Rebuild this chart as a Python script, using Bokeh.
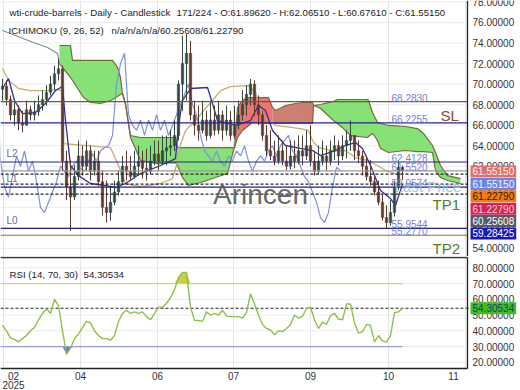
import numpy as np
from bokeh.plotting import figure
from bokeh.layouts import column
from bokeh.models import Range1d, Label
from bokeh.embed import file_html
from bokeh.resources import INLINE

FONT = "Liberation Sans"

# ---------------- data (one candle = 2 trading days) ----------------
candle_step = 2
first_open = 69.5
close = [69.8, 68.5, 67.0, 67.5, 66.2, 66.0, 67.5, 67.0, 67.3, 68.0,
         68.5, 69.2, 70.0, 71.0, 71.5, 62.5, 60.0, 59.0, 61.0, 63.0,
         62.0, 63.5, 61.5, 62.5, 60.5, 58.0, 57.5, 58.5, 59.5, 60.5,
         62.0, 61.5, 61.0, 62.0, 62.5, 61.8, 61.5, 62.5, 63.2, 62.5,
         63.5, 63.8, 64.0, 65.0, 70.0, 72.0, 73.0, 67.0, 66.0, 65.5,
         66.5, 65.0, 66.5, 65.5, 67.0, 65.5, 66.5, 65.0, 66.0, 67.0,
         68.0, 69.0, 70.0, 68.0, 67.0, 65.0, 63.5, 63.0, 62.5, 63.5,
         62.5, 62.0, 63.0, 62.5, 63.5, 63.0, 64.0, 62.5, 61.5, 62.5,
         63.0, 62.5, 63.5, 64.0, 63.0, 64.0, 64.5, 65.0, 63.5, 63.0,
         62.0, 61.0, 60.5, 59.5, 58.5, 57.0, 56.5, 57.5, 60.0, 61.8962,
         61.5515]
high = [70.5, 70.35, 68.9, 68.4, 67.9, 67.4, 68.4, 67.9, 68.4, 68.9,
        69.4, 69.9, 70.8, 71.8, 72.5, 71.8, 63.5, 62.6, 62.1, 64.5,
        64.0, 64.5, 64.0, 63.5, 63.5, 61.6, 60.6, 60.1, 60.6, 61.6,
        63.0, 63.5, 63.0, 63.5, 64.0, 63.5, 63.7, 64.0, 64.5, 64.5,
        65.0, 65.0, 65.5, 66.45, 70.35, 74.7, 74.9, 74.2, 68.4, 67.9,
        68.4, 67.4, 68.4, 67.9, 68.4, 67.4, 67.9, 67.4, 67.9, 68.4,
        69.4, 69.9, 70.5, 70.35, 68.9, 67.4, 66.0, 65.5, 64.5, 65.0,
        64.5, 64.0, 64.5, 64.5, 65.0, 65.0, 65.5, 66.0, 63.5, 64.0,
        64.5, 64.0, 64.5, 65.0, 64.5, 65.0, 65.5, 66.45, 65.0, 64.5,
        63.5, 63.0, 62.6, 61.1, 60.6, 59.2, 58.2, 58.7, 60.6, 62.6,
        62.0651]
low = [68.4, 67.91, 66.45, 65.97, 65.5, 65.3, 66.0, 66.45, 66.45, 66.9,
       67.4, 67.9, 68.9, 69.4, 70.35, 61.6, 58.7, 55.7, 58.7, 60.6,
       61.1, 61.6, 60.6, 61.1, 60.1, 57.2, 56.5, 56.7, 58.2, 59.15,
       60.2, 60.6, 60.6, 60.8, 61.1, 60.8, 60.6, 61.2, 62.1, 61.6,
       62.2, 62.1, 63.0, 63.5, 64.5, 67.4, 68.4, 66.45, 65.0, 64.5,
       65.2, 64.5, 64.7, 65.0, 65.1, 64.5, 65.0, 64.5, 64.7, 65.6,
       66.45, 66.9, 67.9, 66.9, 66.0, 64.5, 63.0, 62.6, 62.1, 62.2,
       62.1, 61.6, 61.7, 61.8, 62.2, 62.1, 62.6, 62.0, 61.1, 61.2,
       62.1, 61.6, 62.1, 62.6, 62.1, 62.6, 62.75, 63.5, 62.6, 62.3,
       61.1, 60.6, 60.1, 59.15, 58.2, 56.7, 55.9, 56.2, 57.1, 59.7,
       60.6761]
rsi = [43.4, 40.0, 35.5, 34.5, 33.0, 35.0, 37.0, 40.2, 42.0, 47.0,
       51.0, 54.0, 51.0, 60.0, 56.0, 40.0, 25.0, 29.0, 35.0, 38.0,
       42.0, 46.0, 45.0, 40.0, 37.0, 35.0, 35.0, 34.0, 37.0, 46.0,
       51.0, 53.0, 51.0, 52.0, 51.0, 52.0, 49.0, 47.0, 51.0, 55.0,
       55.0, 57.5, 61.0, 66.0, 74.0, 77.0, 77.0, 55.0, 46.6, 46.5,
       46.0, 52.0, 50.0, 51.0, 50.0, 53.0, 49.5, 49.0, 49.0, 49.0,
       48.0, 51.5, 63.5, 57.0, 50.0, 44.0, 41.5, 40.5, 37.5, 40.0,
       39.5, 41.5, 44.0, 50.0, 48.0, 49.3, 54.0, 55.0, 47.0, 41.5,
       45.5, 44.0, 49.7, 51.0, 47.5, 47.0, 57.0, 57.0, 45.0, 38.5,
       39.5, 44.0, 43.4, 33.0, 37.0, 33.5, 32.8, 37.0, 51.5, 52.0,
       54.30534]

# Ichimoku lines (x = trading day index)
tenkan_day = [0, 3, 6, 10, 16.5, 21.5, 26.5, 30, 31.5, 34, 38, 44, 51.5, 56.5, 61.5, 69, 79, 86.5,
              88, 90, 94, 102.5, 105, 107.5, 116.5, 124, 128, 131.5, 135, 141.5, 149, 155, 159,
              166.5, 171.5, 176.5, 180, 184, 189, 194, 196.5, 200]
tenkan_val = [69.57, 70.54, 68.40, 67.13, 67.23, 68.11, 69.37, 69.76, 66.45, 62.07, 61.09, 60.32,
              60.12, 59.93, 60.32, 61.29, 62.07, 62.75, 65.97, 68.40, 69.57, 69.67, 68.11, 66.45,
              65.97, 66.45, 67.91, 67.43, 65.48, 64.02, 63.73, 63.53, 63.04, 63.53, 64.02, 64.31,
              63.73, 62.07, 59.63, 58.85, 58.17, 60.25608]
kijun_day = [0, 3, 8, 14, 21.5, 28, 30.5, 30.5, 54, 58, 61.5, 69, 79, 85, 87, 88, 91.5, 96.5,
             101.5, 105, 109, 114, 123, 126.5, 130, 136.5, 149, 153, 155, 158, 165, 171.5, 176.5,
             182.5, 187.5, 191.5, 196.5, 200]
kijun_val = [71.52, 70.35, 69.57, 69.37, 69.37, 69.47, 69.18, 64.21, 63.82, 62.07, 60.32, 60.02,
             60.32, 60.80, 62.07, 63.53, 65.48, 66.45, 67.62, 68.40, 69.37, 69.76, 69.86, 69.18,
             66.94, 65.97, 65.67, 65.48, 64.50, 63.82, 63.53, 63.53, 62.85, 62.56, 62.07, 61.58,
             61.29, 61.2279]
chikou_shift = 31
cloud_day = [28.5, 34, 35, 40.5, 44, 49, 54, 55, 57.5, 59, 60, 61.5, 64, 69, 77.5, 86.5, 87.5, 90,
             93, 99, 112.5, 115.5, 116, 117.5, 120, 122.5, 125, 133, 135, 136.5, 141.5, 146.5,
             150, 155, 155.5, 159, 165.5, 167.5, 170.5, 174, 182.5, 183, 185, 186.5, 187.5, 189,
             193, 201.5, 207.5, 210.5, 215, 216.5, 219, 222.5, 229]
span_a = [73.76, 73.76, 72.30, 72.30, 72.30, 72.30, 72.30, 72.30, 71.62, 70.64, 69.08, 68.11,
          64.99, 64.80, 64.80, 64.80, 63.82, 63.82, 63.82, 63.82, 63.82, 63.82, 63.82, 64.80,
          65.48, 65.87, 66.26, 66.16, 66.16, 66.16, 66.16, 66.16, 66.16, 66.16, 67.91, 68.01,
          68.31, 68.50, 68.50, 68.50, 68.50, 68.40, 67.23, 66.65, 66.26, 66.16, 65.97, 65.87,
          65.67, 65.19, 64.02, 63.34, 62.07, 61.09, 60.80]
span_b = [72.00, 70.64, 70.35, 68.69, 68.21, 68.11, 68.40, 68.50, 68.79, 68.99, 69.08, 68.01,
          64.80, 62.56, 62.26, 62.36, 62.07, 60.90, 60.12, 60.42, 61.29, 63.53, 63.82, 67.72,
          68.40, 68.69, 68.69, 68.69, 67.72, 67.43, 67.91, 68.11, 68.21, 68.21, 67.91, 67.62,
          66.45, 66.16, 65.67, 64.99, 64.80, 64.90, 65.19, 64.80, 64.50, 63.73, 63.34, 63.53,
          63.43, 63.43, 63.34, 61.58, 60.90, 60.61, 60.32]
red_dark_from = 135
pre_day = [0, 9, 15.5, 22.5, 27.5, 28.5]
pre_val = [75.22, 74.54, 74.05, 73.56, 72.98, 72.00]

# horizontal levels
solid_levels = [68.2830, 66.2255, 62.4128, 61.5520, 59.9574, 55.9544, 55.2770]
solid_colors = ["#6e5a3c", "#25258c", "#25258c", "#9a9a9a", "#25258c", "#25258c", "#7a7a52"]
dashed_levels = [61.2279, 60.25608, 59.28425]
level_texts = ["68.2830", "66.2255", "62.4128", "61.5520", "59.9574", "55.9544", "55.2770"]

# axis ticks
month_ticks = [5.5, 39, 77.5, 115.5, 154, 193, 225.5]
month_labels = ["02", "04", "06", "07", "09", "10", "11"]
grid_ticks = [0.5, 39, 77.5, 115.5, 154, 193, 231.5]
price_ticks = list(range(54, 80, 2))
rsi_ticks = [20, 30, 40, 50, 60, 70, 80]

# right-hand value boxes
box_texts = ["61.55150", "61.55150", "61.22790", "61.22790", "60.25608", "59.28425"]
box_bg = ["#e2706a", "#6f84e2", "#f07c14", "#d42452", "#5a5a64", "#1818b8"]
box_fg = ["#fff2f0", "#f2f4ff", "#3a1400", "#f6d4de", "#ffffff", "#ffffff"]

# ---------------- geometry (pixels -> data) for annotations ----------------
X0, XR = -1, 259           # whole 520 px canvas width
XA = 232.5                 # price axis line (px 467)
MAIN_Y = (53.21, 78.14)    # 0..256 px
RSI_TOP, RSI_BOT = 87.17, 2.09   # 256..390 px
RSI_AX = 16.06             # x-axis line of the RSI pane (px 368)


def mx(px):
    return px / 2.0 - 1


def my(py):
    return MAIN_Y[1] - py / 10.27


def ry(py):
    return 85.9 - (py - 258) / 1.575


def bare(fig):
    fig.grid.visible = False
    fig.outline_line_color = None


def value_labels(fig, ticks):
    for t in ticks:
        fig.add_layout(Label(x=mx(472), y=t, text="%.5f" % t, text_font=FONT,
                             text_font_size="10px", text_color="#333333",
                             text_align="left", text_baseline="middle"))


n = len(close)
day = np.arange(n) * candle_step
opens = [first_open] + close[:-1]

common = dict(output_backend="svg", toolbar_location=None, x_axis_location=None,
              y_axis_location=None, min_border_left=0, min_border_top=0,
              min_border_bottom=0, min_border_right=0)

# ---------------- main panel ----------------
p = figure(frame_width=520, frame_height=256, x_range=Range1d(X0, XR),
           y_range=Range1d(*MAIN_Y), **common)
bare(p)
p.segment(x0=X0, x1=XA, y0=price_ticks, y1=price_ticks, line_color="#ececec", line_width=1)
p.segment(x0=grid_ticks, x1=grid_ticks, y0=MAIN_Y[0], y1=MAIN_Y[1], line_color="#e6e6e6",
          line_width=1)

A = np.array(span_a)
B = np.array(span_b)
cd = np.array(cloud_day)


def runs(mask):
    out, start = [], None
    for i, m in enumerate(mask):
        if m and start is None:
            start = i
        if not m and start is not None:
            out.append((start, i))
            start = None
    if start is not None:
        out.append((start, len(mask)))
    return [r for r in out if r[1] - r[0] > 1]


for s, e in runs(A >= B):
    p.varea(x=cd[s:e], y1=B[s:e], y2=A[s:e], fill_color="#7fe070", fill_alpha=0.95)
for s, e in runs(B >= A):
    xs, a, b = cd[s:e], A[s:e], B[s:e]
    light = xs <= red_dark_from
    dark = xs >= red_dark_from
    p.varea(x=xs[light], y1=a[light], y2=b[light], fill_color="#f0645e", fill_alpha=0.9)
    p.varea(x=xs[dark], y1=a[dark], y2=b[dark], fill_color="#c97260", fill_alpha=0.9)
p.line(cd, A, line_color="#6f6a3a", line_width=1.2)
p.line(cd, B, line_color="#7a6a40", line_width=1.2)
p.line(pre_day, pre_val, line_color="#8c8c8c", line_width=1.2)

# indicator lines
p.line(kijun_day, kijun_val, line_color="#c9ad72", line_width=1.3)
p.line(day - chikou_shift, close, line_color="#8090e0", line_width=1.2)
p.line(tenkan_day, tenkan_val, line_color="#2f2f9e", line_width=1.3)

# candles
up = [c >= o for o, c in zip(opens, close)]
body_col = ["#34483f" if u else "#5c3a30" for u in up]
p.segment(x0=day, y0=low, x1=day, y1=high, line_color=body_col, line_width=1)
p.vbar(x=day, width=1.2, top=[max(o, c) for o, c in zip(opens, close)],
       bottom=[min(o, c) for o, c in zip(opens, close)], fill_color=body_col,
       line_color=body_col, line_width=0.5)

# level lines (to the price axis)
p.segment(x0=X0, x1=XA, y0=solid_levels, y1=solid_levels, line_color=solid_colors,
          line_width=1.2)
p.segment(x0=X0, x1=XA, y0=dashed_levels, y1=dashed_levels, line_color="#222222",
          line_width=1.1, line_dash="3 2")
# price axis line
p.segment(x0=XA, x1=XA, y0=MAIN_Y[0], y1=MAIN_Y[1], line_color="#222222", line_width=1.3)

for lv, t in zip(solid_levels, level_texts):
    p.add_layout(Label(x=mx(391), y=lv, text=t, text_font=FONT, text_font_size="10px",
                       text_color="#7d7dd0", text_baseline="bottom", text_align="left"))

# watermark and target labels
p.add_layout(Label(x=mx(260), y=my(194), text="Arincen", text_font=FONT,
                   text_font_size="28px", text_color="#555555", text_alpha=0.9,
                   text_align="center", text_baseline="middle"))
p.add_layout(Label(x=mx(394), y=my(186), text="Last Price", text_font=FONT,
                   text_font_size="15px", text_color="#8cbce0", text_alpha=0.85,
                   text_baseline="middle"))
p.add_layout(Label(x=mx(440), y=my(115), text="SL", text_font=FONT, text_font_size="15px",
                   text_color="#8b4a2a", text_baseline="middle"))
p.add_layout(Label(x=mx(432), y=my(204), text="TP1", text_font=FONT, text_font_size="15px",
                   text_color="#4f7f2a", text_baseline="middle"))
p.add_layout(Label(x=mx(432), y=my(248), text="TP2", text_font=FONT, text_font_size="15px",
                   text_color="#4f7f2a", text_baseline="middle"))
for t, py in [("L2", 153), ("L1", 178), ("L0", 220)]:
    p.add_layout(Label(x=mx(6), y=my(py), text=t, text_font=FONT, text_font_size="10px",
                       text_color="#6a6aa0", text_baseline="middle"))

# header texts
hdr = dict(text_font=FONT, text_font_size="9.7px", text_color="#1e1e1e", text_baseline="middle")
p.add_layout(Label(x=mx(9), y=my(12), text="wti-crude-barrels - Daily - Candlestick", **hdr))
p.add_layout(Label(x=mx(176), y=my(12),
                   text="171/224 - O:61.89620 - H:62.06510 - L:60.67610 - C:61.55150", **hdr))
p.add_layout(Label(x=mx(8), y=my(30), text="ICHIMOKU (9, 26, 52)", **hdr))
p.add_layout(Label(x=mx(111), y=my(30), text="n/a/n/a/n/a/60.25608/61.22790", **hdr))

# price tick labels, then the value boxes over them
value_labels(p, price_ticks)
for i, (t, bg, fg) in enumerate(zip(box_texts, box_bg, box_fg)):
    p.add_layout(Label(x=mx(470), y=my(171 + 12.4 * i), text=t, text_font=FONT,
                       text_font_size="10px", text_color=fg, background_fill_color=bg,
                       text_baseline="middle", text_align="left", padding=2))

# ---------------- RSI panel ----------------
r = figure(frame_width=520, frame_height=134, x_range=p.x_range,
           y_range=Range1d(RSI_BOT, RSI_TOP), **common)
bare(r)
r.segment(x0=X0, x1=XA, y0=rsi_ticks, y1=rsi_ticks, line_color="#ececec", line_width=1)
r.segment(x0=grid_ticks, x1=grid_ticks, y0=RSI_AX, y1=RSI_TOP, line_color="#e6e6e6",
          line_width=1)

rs = np.array(rsi)
r.varea(x=day, y1=70, y2=np.maximum(rs, 70), fill_color="#c4cc3c", fill_alpha=0.95)
r.varea(x=day, y1=np.minimum(rs, 30), y2=30, fill_color="#6a6ad0", fill_alpha=0.95)
r.segment(x0=X0, x1=day[-1], y0=70, y1=70, line_color="#d6d670", line_width=1.3)
r.segment(x0=X0, x1=day[-1], y0=30, y1=30, line_color="#9a9ade", line_width=1.3)
r.segment(x0=X0, x1=mx(470), y0=rsi[-1], y1=rsi[-1], line_color="#222222",
          line_width=1.1, line_dash="3 2")
r.line(day, rsi, line_color="#8fc14a", line_width=1.4)

# pane frame: separator on top, price axis on right, time axis at bottom
r.segment(x0=X0, x1=XA, y0=ry(257), y1=ry(257), line_color="#333333", line_width=1.3)
r.segment(x0=XA, x1=XA, y0=RSI_AX, y1=ry(257), line_color="#222222", line_width=1.3)
r.segment(x0=X0, x1=XA, y0=RSI_AX, y1=RSI_AX, line_color="#222222", line_width=1.3)

r.add_layout(Label(x=mx(9), y=ry(274), text="RSI (14, 70, 30)", **hdr))
r.add_layout(Label(x=mx(83), y=ry(274), text="54.30534", **hdr))
value_labels(r, rsi_ticks)
r.add_layout(Label(x=mx(470), y=rsi[-1], text="54.30534", text_font=FONT,
                   text_font_size="10px", text_color="#1b3a7a",
                   background_fill_color="#3fbf1f", text_baseline="middle",
                   text_align="left", padding=2))
for t, lab in zip(month_ticks, month_labels):
    r.add_layout(Label(x=t, y=ry(376), text=lab, text_font=FONT, text_font_size="10px",
                       text_color="#333333", text_align="center", text_baseline="middle"))
r.add_layout(Label(x=month_ticks[0], y=ry(384.5), text="2025", text_font=FONT,
                   text_font_size="10px", text_color="#333333", text_align="center",
                   text_baseline="middle"))

layout = column(p, r, spacing=0)
open("out.html", "w").write(file_html(layout, INLINE))
